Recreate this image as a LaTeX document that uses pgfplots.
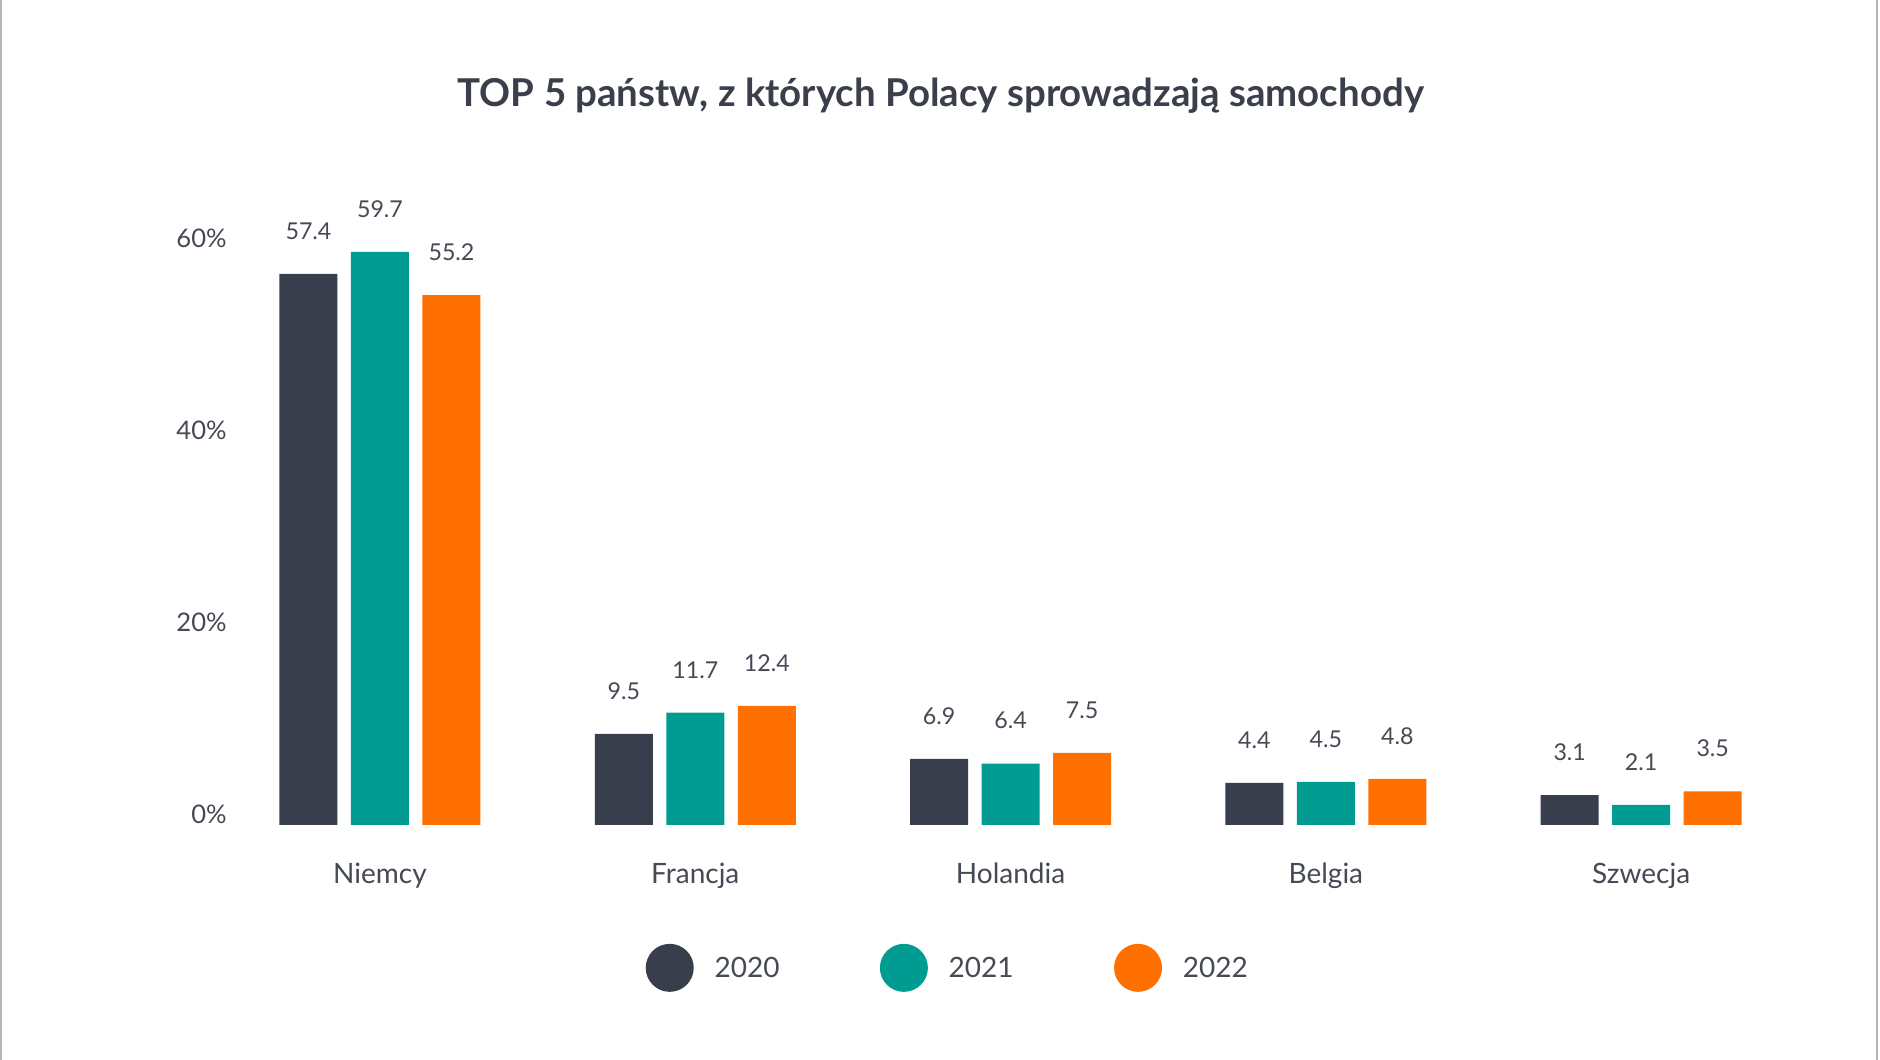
\documentclass[border=0pt]{standalone}
\usepackage{fontspec}
\setmainfont{Lato}
\usepackage{pgfplots}
\pgfplotsset{compat=1.18}

\definecolor{c2020}{HTML}{383E4C}
\definecolor{c2021}{HTML}{009B91}
\definecolor{c2022}{HTML}{FF7000}
\definecolor{titletxt}{HTML}{3A3F4B}
\definecolor{labeltxt}{HTML}{454A55}
\definecolor{framegray}{HTML}{B4B4BC}

\begin{document}
\begin{tikzpicture}
% page background and side rules
\path[fill=white] (0,0) rectangle (940pt,530pt);
\draw[framegray, line width=1pt] (0.5pt,0) -- (0.5pt,530pt);
\draw[framegray, line width=1pt] (938.5pt,0) -- (938.5pt,530pt);

\node[anchor=base, inner sep=0pt, text=titletxt,
      font=\fontsize{19.2}{21}\selectfont\bfseries]
  at (470.4pt,476.6pt) {TOP 5 państw, z których Polacy sprowadzają samochody};

\begin{axis}[
  at={(119.05pt,117.5pt)}, anchor=south west,
  scale only axis, width=772.485pt, height=297.6pt,
  xmin=-0.45, xmax=4.45, ymin=0, ymax=62,
  clip=false,
  axis line style={draw=none}, tick style={draw=none},
  ybar=6.75pt, bar width=29pt,
  xtick={0,1,2,3,4},
  xticklabels={Niemcy,Francja,Holandia,Belgia,Szwecja},
  ytick={0,20,40,60},
  yticklabel={\pgfmathprintnumber[assume math mode=true]{\tick}\%},
  xticklabel style={anchor=base, inner sep=0pt, yshift=-25.2pt,
    font=\fontsize{14}{16}\selectfont, text=labeltxt},
  yticklabel style={anchor=base east, inner sep=0pt, xshift=-5.5pt, yshift=0.6pt,
    font=\fontsize{12.8}{15}\selectfont, text=labeltxt},
  nodes near coords={\pgfmathprintnumber[fixed,fixed zerofill,precision=1,assume math mode=true]{\pgfplotspointmeta}},
  every node near coord/.append style={anchor=base, yshift=17.3pt, inner sep=0pt,
    font=\fontsize{11.6}{13}\selectfont, text=labeltxt},
  legend columns=3,
  legend image code/.code={\fill (12pt,5pt) circle (12pt);},
  legend style={at={(0.4587,-0.240)}, anchor=center, draw=none, fill=none,
    inner sep=0pt,
    nodes={inner sep=0pt, anchor=base west,
      font=\fontsize{14}{16}\selectfont, text=labeltxt},
    /tikz/every odd column/.append style={column sep=10.4pt},
    /tikz/every even column/.append style={column sep=50.2pt}},
]
\addplot[fill=c2020, draw=none] coordinates {(0,57.4) (1,9.5) (2,6.9) (3,4.4) (4,3.1)};
\addplot[fill=c2021, draw=none] coordinates {(0,59.7) (1,11.7) (2,6.4) (3,4.5) (4,2.1)};
\addplot[fill=c2022, draw=none] coordinates {(0,55.2) (1,12.4) (2,7.5) (3,4.8) (4,3.5)};
\legend{2020,2021,2022}
\end{axis}
\pgfresetboundingbox
\useasboundingbox (0,0) rectangle (940pt,530pt);
\end{tikzpicture}
\end{document}
